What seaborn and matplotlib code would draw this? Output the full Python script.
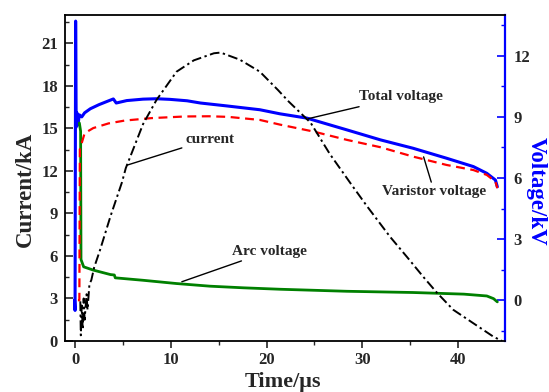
import numpy as np
import pandas as pd
import matplotlib
matplotlib.use("Agg")
import matplotlib.pyplot as plt
from matplotlib.ticker import MultipleLocator
import seaborn as sns

# ---------------- data ----------------
t_current = [0.55, 0.6, 0.7, 0.8, 0.9, 1.0, 1.2, 1.3, 1.5, 1.7, 2.0, 2.6, 3.7, 4.9, 5.3,
             7.1, 8.5, 10.6, 12.4, 14.5, 15.2, 17.2, 19.3, 21.2, 22.3, 24.6, 26.6, 28.9,
             30.5, 32.9, 34.7, 36.4, 37.8, 39.5, 41.6, 43.7, 44.6]
i_current = [2.8, 0.4, 2.5, 0.8, 3.0, 1.5, 3.3, 2.2, 4.0, 4.3, 5.2, 6.4, 8.8, 11.2, 12.2,
             15.3, 17.0, 19.0, 19.8, 20.3, 20.35, 19.85, 19.0, 17.7, 16.9, 15.4, 13.2, 11.0,
             9.5, 7.35, 5.9, 4.5, 3.4, 2.2, 1.25, 0.3, 0.0]

t_total = [-0.05, 0.0, 0.06, 0.12, 0.2, 0.3, 0.45, 0.7, 1.0, 1.6, 2.5, 3.3, 4.0, 4.3, 5.4,
           7.1, 8.5, 9.9, 11.7, 13.1, 15.8, 19.3, 21.4, 24.2, 28.4, 31.9, 35.3, 38.8,
           41.6, 43.0, 43.9, 44.1]
v_total = [0.0, -0.5, 13.7, 8.5, 9.2, 8.6, 9.1, 9.0, 9.2, 9.4, 9.6, 9.75, 9.88, 9.68, 9.8,
           9.87, 9.89, 9.86, 9.79, 9.68, 9.54, 9.35, 9.15, 8.94, 8.36, 7.87, 7.46, 6.97,
           6.56, 6.23, 5.9, 5.57]

t_varistor = [0.3, 0.45, 0.5, 1.0, 1.9, 3.5, 5.2, 8.0, 11.5, 14.0, 16.0, 19.3, 21.4, 24.9,
              28.4, 31.9, 35.3, 38.8, 41.6, 43.0, 43.9, 44.1]
v_varistor = [0.0, 0.0, 7.4, 8.2, 8.45, 8.68, 8.82, 8.94, 9.02, 9.03, 9.0, 8.85, 8.62, 8.28,
              7.87, 7.51, 7.05, 6.64, 6.39, 6.15, 5.82, 5.5]

t_arc = [0.45, 0.58, 0.62, 0.9, 1.9, 3.7, 4.1, 4.2, 7.1, 10.6, 14.1, 17.6, 21.4, 28.4,
         35.3, 40.6, 43.0, 43.7, 44.1]
v_arc = [8.7, 8.3, 2.0, 1.64, 1.48, 1.26, 1.24, 1.1, 0.98, 0.82, 0.69, 0.61, 0.54, 0.44,
         0.38, 0.3, 0.21, 0.08, -0.08]

x_ticks = [0, 10, 20, 30, 40]
left_ticks = [0, 3, 6, 9, 12, 15, 18, 21]
right_ticks = [0, 3, 6, 9, 12]

# ---------------- style ----------------
sns.set_style("ticks")
plt.rcParams['font.family'] = ['Liberation Serif', 'DejaVu Serif']
plt.rcParams['font.weight'] = 'bold'

fig = plt.figure(figsize=(5.49, 3.92), dpi=100)
ax = fig.add_axes([65 / 549, 1 - 341 / 392, 440 / 549, 326 / 392])
ax2 = ax.twinx()

df_cur = pd.DataFrame({"t": t_current, "v": i_current})
df_tot = pd.DataFrame({"t": t_total, "v": v_total})
df_var = pd.DataFrame({"t": t_varistor, "v": v_varistor})
df_arc = pd.DataFrame({"t": t_arc, "v": v_arc})

sns.lineplot(data=df_tot, x="t", y="v", ax=ax2, color="#0000ff", lw=2.2, sort=False,
             estimator=None, zorder=2)
sns.lineplot(data=df_var, x="t", y="v", ax=ax2, color="#ff0000", lw=1.6, sort=False,
             estimator=None, zorder=3, linestyle=(0, (4, 2.5)))
sns.lineplot(data=df_arc, x="t", y="v", ax=ax2, color="#008000", lw=2.0, sort=False,
             estimator=None, zorder=2)
sns.lineplot(data=df_cur, x="t", y="v", ax=ax, color="black", lw=1.4, sort=False,
             estimator=None, zorder=4, linestyle=(0, (5, 1.8, 1.2, 1.8)))

ax.set_xlim(-1.05, 44.9)
ax.set_ylim(0, 23)
ax2.set_ylim(-2, 14)

ax.set_xticks(x_ticks)
ax.xaxis.set_minor_locator(MultipleLocator(5))
ax.set_yticks(left_ticks)
ax.yaxis.set_minor_locator(MultipleLocator(1.5))
ax2.set_yticks(right_ticks)
ax2.yaxis.set_minor_locator(MultipleLocator(1.5))

ax.tick_params(axis='x', which='both', direction='out', labelsize=12, pad=3)
ax.tick_params(axis='x', which='major', length=5, width=1.2)
ax.tick_params(axis='x', which='minor', length=3, width=1.0)
ax.tick_params(axis='y', which='both', direction='in', labelsize=12, pad=5)
ax.tick_params(axis='y', which='major', length=6, width=1.2)
ax.tick_params(axis='y', which='minor', length=3, width=1.0)
ax2.tick_params(axis='y', which='both', direction='in', labelsize=12, pad=6, color='#0000ff')
ax2.tick_params(axis='y', which='major', length=6, width=1.2)
ax2.tick_params(axis='y', which='minor', length=3, width=1.0)
for lab in ax.get_xticklabels() + ax.get_yticklabels() + ax2.get_yticklabels():
    lab.set_fontweight('bold')

for s in ['left', 'bottom', 'top']:
    ax.spines[s].set_color('black')
    ax.spines[s].set_linewidth(1.3)
    ax.spines[s].set_visible(True)
ax.spines['right'].set_visible(False)
for s in ['left', 'bottom', 'top']:
    ax2.spines[s].set_visible(False)
ax2.spines['right'].set_color('#0000ff')
ax2.spines['right'].set_linewidth(1.6)
ax2.spines['right'].set_visible(True)

ax.set_xlabel("Time/μs", fontsize=16, fontweight='bold')
ax.set_ylabel("Current/kA", fontsize=16.5, fontweight='bold')
ax2.set_ylabel("Voltage/kV", fontsize=16.5, fontweight='bold', color='#0000ff',
               rotation=270)
ax.xaxis.set_label_coords(0.495, -0.125)
ax.xaxis.label.set_va('center')
ax.yaxis.set_label_coords(-0.091, 0.465)
ax.yaxis.label.set_va('center')
ax2.yaxis.set_label_coords(1.071, 0.46)
ax2.yaxis.label.set_va('center')
ax2.yaxis.label.set_ha('center')

ann = dict(fontsize=11, fontweight='bold', ha='center', va='center',
           arrowprops=dict(arrowstyle='-', color='black', lw=1.0, shrinkA=0, shrinkB=0))
ax.annotate("current", xy=(5.40, 12.40), xytext=(14.06, 14.24), **ann)
ax.annotate("Total voltage", xy=(24.38, 15.69), xytext=(34.0, 17.22), **ann)
ax.annotate("Varistor voltage", xy=(36.4, 12.99), xytext=(37.51, 10.52), **ann)
ax.annotate("Arc voltage", xy=(11.15, 4.18), xytext=(20.3, 6.34), **ann)

ax.set_zorder(ax2.get_zorder() + 1)
ax.patch.set_visible(False)

fig.savefig("out.png", dpi=100)
